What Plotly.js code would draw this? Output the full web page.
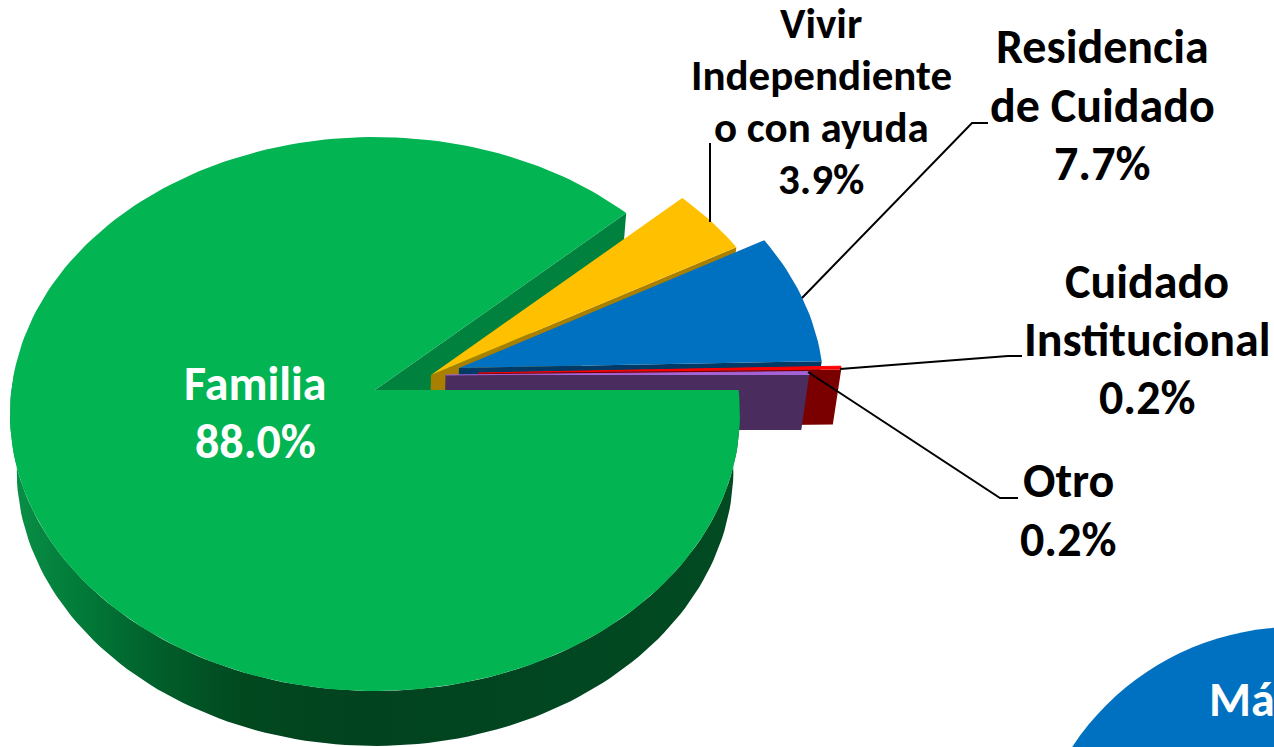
<!DOCTYPE html>
<html>
<head>
<meta charset="utf-8">
<script src="https://cdn.plot.ly/plotly-3.0.1.min.js"></script>
<style>html,body{margin:0;padding:0;background:#fff;overflow:hidden}</style>
</head>
<body>
<div id="chart" style="width:1274px;height:747px"></div>
<script>
// ---- data ----
const categories = ['Familia', 'Vivir Independiente o con ayuda', 'Residencia de Cuidado', 'Cuidado Institucional', 'Otro'];
const percents = [88.0, 3.9, 7.7, 0.2, 0.2];
const labelLines = [
  ['Familia', '88.0%'],
  ['Vivir', 'Independiente', 'o con ayuda', '3.9%'],
  ['Residencia', 'de Cuidado', '7.7%'],
  ['Cuidado', 'Institucional', '0.2%'],
  ['Otro', '0.2%']
];
const topColors = ['#02B452', '#FFC000', '#0070C0', '#FF0000', '#A463D6'];
const wallColors = ['#00823E', '#A97F00', '#003A66', '#7A0000', '#4A2C5E'];

// ---- layout of the exploded, tilted pie (pixels) ----
const W = 1274, H = 747;
const apexes = [[375, 390], [431, 375], [459, 368], [478, 373], [445.5, 375]];
const RX = 365, RY = 277, CY_OFF = 24, TILT = 0.75, DEPTH = 55, SHRINK = 0.982, CX = 375;
const labelPos = [[255, 412, 58, '#fff'], [821, 101, 52, '#000'], [1102, 105, 58.5, '#000'], [1147, 339, 58, '#000'], [1068, 510, 59, '#000']];
const labelSize = [48, 43, 48, 48, 48];
const thinEdge = [0, 0, 0, 1, 1];
const FONT = 'Carlito, Lato, sans-serif';

function rim(apex, deg) {
  const a = deg * Math.PI / 180, dx = Math.cos(a), dy = -TILT * Math.sin(a);
  const A = dx * dx / (RX * RX) + dy * dy / (RY * RY);
  const B = -2 * dy * CY_OFF / (RY * RY);
  const C = CY_OFF * CY_OFF / (RY * RY) - 1;
  const t = (-B + Math.sqrt(B * B - 4 * A * C)) / (2 * A);
  return [apex[0] + t * dx, apex[1] + t * dy];
}
function drop(p) { return [CX + (p[0] - CX) * SHRINK, p[1] + DEPTH]; }
function arc(apex, from, to) {
  const n = Math.max(2, Math.ceil(Math.abs(to - from) / 1.5) + 1), out = [];
  for (let i = 0; i < n; i++) out.push(rim(apex, from + (to - from) * i / (n - 1)));
  return out;
}
function poly(name, pts, color, extra) {
  return Object.assign({
    type: 'scatter', mode: 'lines', name: name,
    x: pts.map(p => p[0]), y: pts.map(p => p[1]),
    fill: 'toself', fillcolor: color, line: {width: 0, color: color},
    hoverinfo: 'name', showlegend: false
  }, extra || {});
}

// slice boundaries: clockwise from the 3 o'clock direction
const bounds = [];
let acc = 0;
percents.forEach(v => { const s = acc; acc -= v * 3.6; bounds.push([s, acc]); });
const angles = bounds.map(([s, e]) => [s + 360, e + 360]);

const traces = [];
function cutWall(i, deg) {
  const a = apexes[i], r = rim(a, deg);
  traces.push(poly(categories[i] + ' (corte)', [a, r, drop(r), drop(a)], wallColors[i]));
}
function face(i, from, to) {
  const extra = thinEdge[i] ? {line: {width: thinEdge[i], color: topColors[i]}} : {};
  traces.push(poly(categories[i], [apexes[i]].concat(arc(apexes[i], from, to)), topColors[i], extra));
}
// back to front
const famEnd = angles[0][1];
cutWall(0, famEnd);
for (let i = 1; i < percents.length; i++) {
  cutWall(i, angles[i][1]);
  face(i, angles[i][0], angles[i][1]);
}
const wallTop = arc(apexes[0], 176, 360);
const wallBot = wallTop.map(drop).reverse();
traces.push(poly('Familia (pared)', wallTop.concat(wallBot), '#014a22', {
  fillgradient: {type: 'horizontal', colorscale: [[0, '#0A9047'], [0.1, '#017A38'], [0.2, '#015F2B'], [0.32, '#01481F'], [0.48, '#01431F'], [1, '#014A22']]}
}));
face(0, famEnd, 360);

// ---- text ----
const annotations = [];
labelLines.forEach((lines, i) => {
  const [cx, cy, step, col] = labelPos[i];
  lines.forEach((txt, j) => annotations.push({
    xref: 'x', yref: 'y', x: cx, y: cy + (j - (lines.length - 1) / 2) * step,
    text: '<b>' + txt + '</b>', showarrow: false, xanchor: 'center', yanchor: 'middle',
    font: {family: FONT, size: labelSize[i], color: col}
  }));
});
annotations.push({xref: 'x', yref: 'y', x: 1207, y: 699, text: '<b>Má</b>', showarrow: false, xanchor: 'left', yanchor: 'middle',
  font: {family: FONT, size: 48, color: '#fff'}});
annotations.push({xref: 'x', yref: 'y', x: 1252, y: 731, text: '<b>C</b>', showarrow: false, xanchor: 'left', yanchor: 'top',
  font: {family: FONT, size: 48, color: '#fff'}});

// ---- leader lines and the corner shape ----
const leaders = [
  [[710, 222], [710, 143]],
  [[802, 298], [972, 123], [988, 123]],
  [[840, 369], [1008, 356], [1022, 356]],
  [[808, 372], [1000, 498], [1018, 498]]
];
const shapes = [{type: 'circle', xref: 'x', yref: 'y', x0: 1028, x1: 1562, y0: 627, y1: 1161, fillcolor: '#0070C0', line: {width: 0}, layer: 'below'}];
leaders.forEach(l => shapes.push({
  type: 'path', xref: 'x', yref: 'y', layer: 'above',
  path: l.map((p, i) => (i ? 'L' : 'M') + p[0] + ',' + p[1]).join(' '),
  line: {color: '#000', width: 2}
}));

Plotly.newPlot('chart', traces, {
  width: W, height: H, autosize: false,
  margin: {l: 0, r: 0, t: 0, b: 0, pad: 0},
  paper_bgcolor: '#fff', plot_bgcolor: '#fff', showlegend: false,
  xaxis: {range: [0, W], visible: false, fixedrange: true},
  yaxis: {range: [H, 0], visible: false, fixedrange: true},
  annotations: annotations, shapes: shapes
}, {displayModeBar: false});
</script>
</body>
</html>
